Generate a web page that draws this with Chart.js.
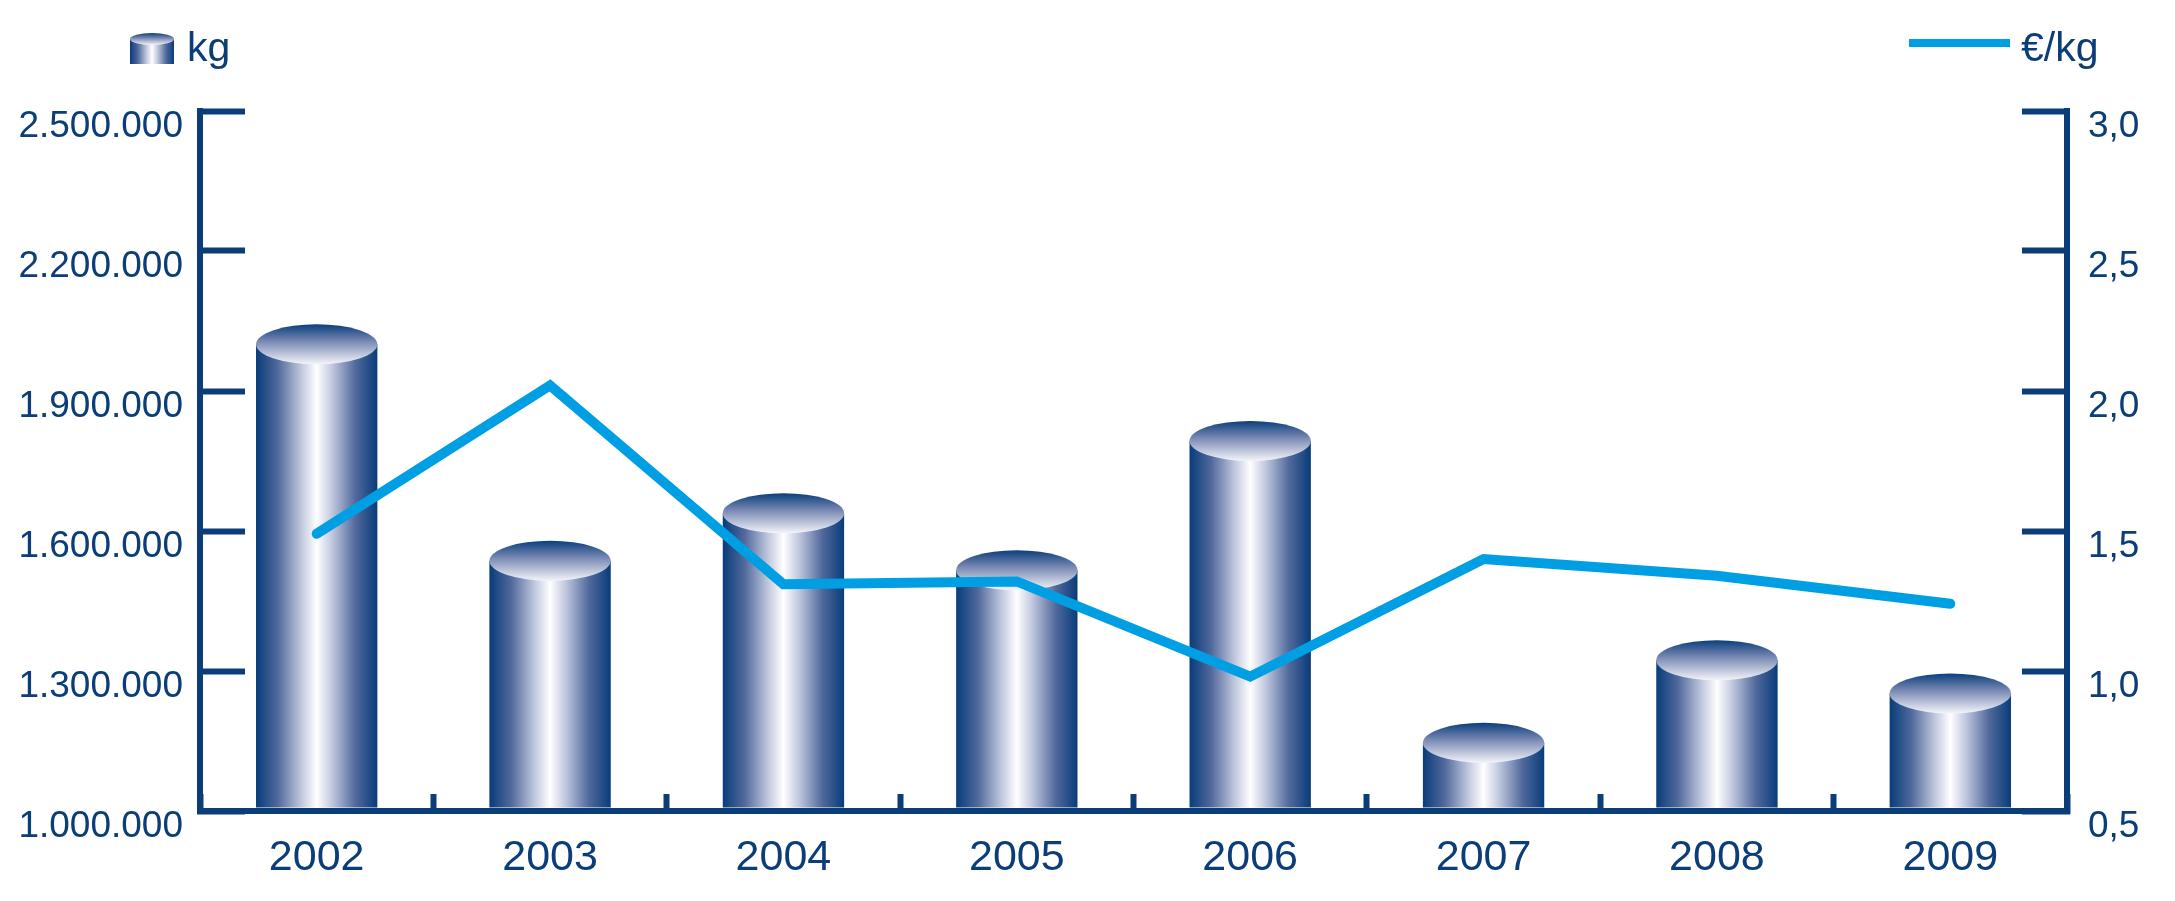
<!DOCTYPE html>
<html>
<head>
<meta charset="utf-8">
<script src="https://cdn.jsdelivr.net/npm/chart.js@4.4.1/dist/chart.umd.min.js"></script>
<style>
  html, body { margin: 0; padding: 0; background: #fff; }
  #wrap { width: 2175px; height: 901px; }
</style>
</head>
<body>
<div id="wrap"><canvas id="chart" width="2175" height="901"></canvas></div>
<script>
// data
const years = ['2002', '2003', '2004', '2005', '2006', '2007', '2008', '2009'];
const kgValues = [2000000, 1536000, 1638000, 1516000, 1793000, 1146000, 1323000, 1252000];
const priceValues = [1.49, 2.02, 1.31, 1.32, 0.98, 1.40, 1.34, 1.24];
const kgTicks = [1000000, 1300000, 1600000, 1900000, 2200000, 2500000];
const priceTicks = [0.5, 1.0, 1.5, 2.0, 2.5, 3.0];

const NAVY = '#0b3d78';
const CYAN = '#009fe3';
const BAR_PCT = 0.52;
const tickFont = { family: "'Liberation Sans', Arial, sans-serif", size: 37 };

Chart.defaults.font.family = "'Liberation Sans', Arial, sans-serif";

function fmtKg(v) {
  return String(v).replace(/\B(?=(\d{3})+(?!\d))/g, '.');
}
function fmtPrice(v) {
  return v.toFixed(1).replace('.', ',');
}

function bodyGradient(ctx, x0, x1) {
  let g = ctx.createLinearGradient(x0, 0, x1, 0);
  g.addColorStop(0, '#083c7a');
  g.addColorStop(0.18, '#51699c');
  g.addColorStop(0.38, '#c4cbe0');
  g.addColorStop(0.5, '#ffffff');
  g.addColorStop(0.62, '#c4cbe0');
  g.addColorStop(0.82, '#51699c');
  g.addColorStop(1, '#083c7a');
  return g;
}

function drawTop(ctx, cx, cy, rx, ry) {
  let g = ctx.createLinearGradient(0, cy - ry, 0, cy + ry);
  g.addColorStop(0, '#0a3f7c');
  g.addColorStop(0.4, '#7384b0');
  g.addColorStop(1, '#f4f5fa');
  ctx.fillStyle = g;
  ctx.beginPath();
  ctx.ellipse(cx, cy, rx, ry, 0, 0, Math.PI * 2);
  ctx.fill();
}

// the bar elements are drawn as cylinders: shaded body + top ellipse
const cylinders = {
  id: 'cylinders',
  afterDatasetDraw(chart, args) {
    if (args.meta.type !== 'bar') return;
    let ctx = chart.ctx;
    ctx.save();
    args.meta.data.forEach(bar => {
      let rx = bar.width / 2;
      ctx.fillStyle = bodyGradient(ctx, bar.x - rx, bar.x + rx);
      ctx.fillRect(bar.x - rx, bar.y, bar.width, bar.base - bar.y - 3);
      drawTop(ctx, bar.x, bar.y, rx, rx * 0.33);
    });
    ctx.restore();
  }
};

// legend: cylinder + kg on the left, line + €/kg on the right
const topLegend = {
  id: 'topLegend',
  afterDraw(chart) {
    let ctx = chart.ctx;
    let ds = chart.data.datasets;
    ctx.save();
    ctx.fillStyle = bodyGradient(ctx, 130, 174);
    ctx.fillRect(130, 39, 44, 25);
    drawTop(ctx, 152, 39, 22, 6);
    ctx.fillStyle = NAVY;
    ctx.font = "41px 'Liberation Sans', Arial, sans-serif";
    ctx.textBaseline = 'alphabetic';
    ctx.textAlign = 'left';
    ctx.fillText(ds[1].label, 187, 61);
    ctx.strokeStyle = CYAN;
    ctx.lineWidth = 8;
    ctx.beginPath();
    ctx.moveTo(1909, 43);
    ctx.lineTo(2010, 43);
    ctx.stroke();
    ctx.fillText(ds[0].label, 2021, 61);
    ctx.restore();
  }
};

new Chart(document.getElementById('chart'), {
  type: 'bar',
  data: {
    labels: years,
    datasets: [
      {
        type: 'line',
        label: '€/kg',
        data: priceValues,
        yAxisID: 'y1',
        borderColor: CYAN,
        borderWidth: 10,
        borderCapStyle: 'round',
        borderJoinStyle: 'miter',
        pointRadius: 0,
        tension: 0,
        fill: false,
        clip: false
      },
      {
        type: 'bar',
        label: 'kg',
        data: kgValues,
        yAxisID: 'y',
        base: kgTicks[0],
        categoryPercentage: 1,
        barPercentage: BAR_PCT,
        borderWidth: 0,
        backgroundColor: 'rgba(0,0,0,0)'
      }
    ]
  },
  options: {
    responsive: false,
    animation: false,
    devicePixelRatio: 1,
    layout: { padding: { top: 111, left: 0, right: 0, bottom: 0 } },
    plugins: {
      legend: { display: false },
      tooltip: { enabled: false }
    },
    scales: {
      x: {
        position: 'bottom',
        offset: true,
        border: { color: NAVY, width: 6, z: 1 },
        grid: { offset: true, z: 1, drawOnChartArea: false, drawTicks: true, tickLength: -17, tickWidth: 6, tickColor: NAVY },
        ticks: { color: NAVY, font: { size: 43 }, padding: 38, maxRotation: 0 },
        afterFit: s => { s.height = 90; }
      },
      y: {
        position: 'left',
        min: 1000000,
        max: 2500000,
        border: { color: NAVY, width: 6 },
        grid: { drawOnChartArea: false, drawTicks: true, tickLength: -45, tickWidth: 6, tickColor: NAVY },
        ticks: { color: NAVY, font: tickFont, padding: 62, labelOffset: 16, callback: v => fmtKg(v) },
        afterBuildTicks: s => { s.ticks = kgTicks.map(v => ({ value: v })); },
        afterFit: s => { s.width = 200; }
      },
      y1: {
        position: 'right',
        min: 0.5,
        max: 3.0,
        border: { color: NAVY, width: 6 },
        grid: { drawOnChartArea: false, drawTicks: true, tickLength: -45, tickWidth: 6, tickColor: NAVY },
        ticks: { color: NAVY, font: tickFont, padding: 66, labelOffset: 16, callback: v => fmtPrice(v) },
        afterBuildTicks: s => { s.ticks = priceTicks.map(v => ({ value: v })); },
        afterFit: s => { s.width = 108; }
      }
    }
  },
  plugins: [cylinders, topLegend]
});
</script>
</body>
</html>
